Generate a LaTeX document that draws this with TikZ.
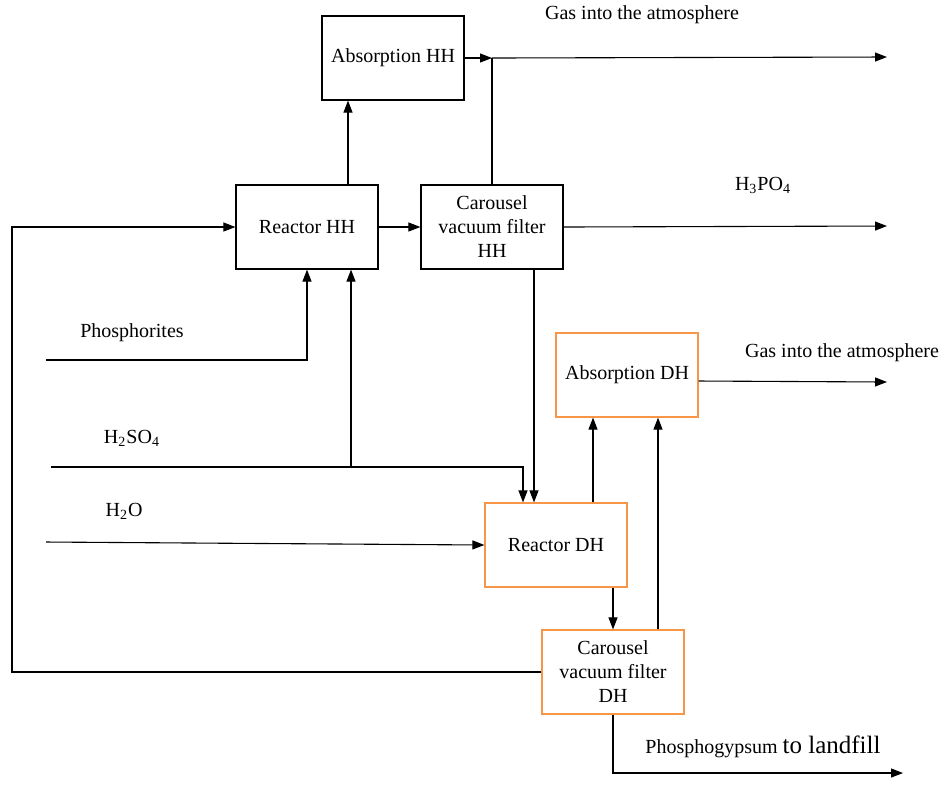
\documentclass[tikz,border=0pt]{standalone}
\usepackage{fontspec}
\setmainfont{Liberation Serif}
\usetikzlibrary{arrows.meta,calc,positioning}
\definecolor{dhOrange}{RGB}{247,150,70}

\begin{document}
\begin{tikzpicture}[x=0.5pt,y=-0.5pt,font=\fontsize{10}{12}\selectfont,
    hhbox/.style={draw=black,line width=0.6pt,minimum width=71pt,minimum height=42pt,align=center,inner sep=2pt},
    dhbox/.style={hhbox,draw=dhOrange},
    flow/.style={->,line width=0.55pt},
    line/.style={line width=0.55pt},
    >={Triangle[length=6pt,width=4.5pt]}]

      \useasboundingbox (0,0) rectangle (945,784);

      % draw the HH units
      \node[hhbox] (absHH) at (393,58) {Absorption HH};
      \node[hhbox] (reacHH) at (307,227) {Reactor HH};
      \node[hhbox] (carHH) at (492,227) {Carousel\\vacuum filter\\HH};

      % draw the DH units
      \node[dhbox] (absDH) at (627,375) {Absorption DH};
      \node[dhbox] (reacDH) at (556,545) {Reactor DH};
      \node[dhbox] (carDH) at (613,672) {Carousel\\vacuum filter\\DH};

      % free ends of the streams
      \coordinate (gasHH) at (887,57);
      \coordinate (acidOut) at (887,226);
      \coordinate (gasDH) at (887,382);
      \coordinate (landfill) at (903,773);
      \coordinate (phosIn) at (46,360);
      \coordinate (sulfIn) at (51,467);
      \coordinate (waterIn) at (46,542);
      \coordinate (recyc) at (12,672);

      % draw the stream labels
      \foreach \x/\y/\txt [count=\i] in {
        642/15/{Gas into the atmosphere},
        763/185/{H\textsubscript{3}PO\textsubscript{4}},
        842/353/{Gas into the atmosphere},
        132/333/{Phosphorites},
        132/438/{H\textsubscript{2}SO\textsubscript{4}},
        124/511/{H\textsubscript{2}O},
        763/747/{Phosphogypsum {\fontsize{12.5}{14}\selectfont to landfill}}}
      \node (lbl\i) at (\x,\y) {\txt};

      % HH section
      \draw[flow] ([xshift=20.5pt]reacHH.north) coordinate (a) -- (a |- absHH.south);
      \draw[flow] (absHH.east) -- (carHH.north |- absHH.east) coordinate (jgas);
      \draw[line] (carHH.north) -- (jgas);
      \draw[flow] (jgas) -- (gasHH);
      \draw[flow] (reacHH) -- (carHH);
      \draw[flow] (carHH.east) -- (acidOut);

      % feeds
      \draw[flow] (phosIn) -| (reacHH.south);
      \draw[flow] (sulfIn) -| ([xshift=-16.5pt]reacDH.north);
      \draw[flow] ([xshift=22pt]reacHH.south |- sulfIn) -- ([xshift=22pt]reacHH.south);
      \draw[flow] (waterIn) -- (reacDH.west);
      \draw[flow] ([xshift=21pt]carHH.south) coordinate (b) -- (b |- reacDH.north);

      % DH section
      \draw[flow] ([xshift=18.5pt]reacDH.north) coordinate (c) -- (c |- absDH.south);
      \draw[flow] ([xshift=22.5pt]carDH.north) coordinate (d) -- (d |- absDH.south);
      \draw[flow] ([yshift=-3pt]absDH.east) -- (gasDH);
      \draw[flow] (reacDH.south -| carDH.north) -- (carDH.north);
      \draw[flow] (carDH.south) |- (landfill);

      % recycle to the HH reactor
      \draw[flow] (carDH.west) -- (recyc) |- (reacHH.west);

\end{tikzpicture}
\end{document}
